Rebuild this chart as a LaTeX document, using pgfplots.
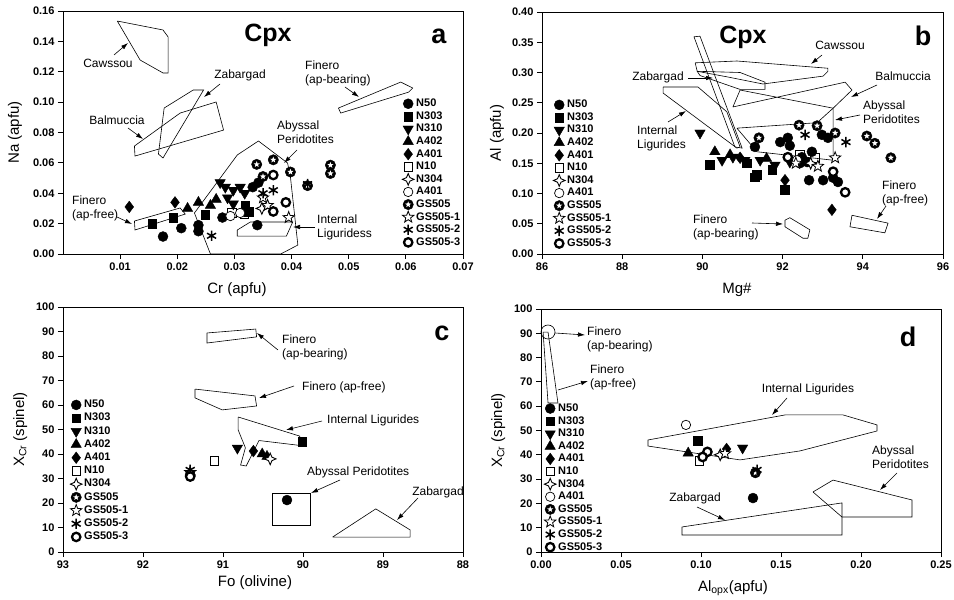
\documentclass[border=0pt]{standalone}
\usepackage{pgfplots}
\pgfplotsset{compat=1.18}
\usepackage{fontspec}
\setmainfont{Liberation Sans}
\usetikzlibrary{arrows.meta}

% open 4-point star (N304)
\pgfdeclareplotmark{star4}{%
  \pgfpathmoveto{\pgfqpoint{0pt}{\pgfplotmarksize}}%
  \pgfpathlineto{\pgfqpoint{0.3\pgfplotmarksize}{0.3\pgfplotmarksize}}%
  \pgfpathlineto{\pgfqpoint{\pgfplotmarksize}{0pt}}%
  \pgfpathlineto{\pgfqpoint{0.3\pgfplotmarksize}{-0.3\pgfplotmarksize}}%
  \pgfpathlineto{\pgfqpoint{0pt}{-\pgfplotmarksize}}%
  \pgfpathlineto{\pgfqpoint{-0.3\pgfplotmarksize}{-0.3\pgfplotmarksize}}%
  \pgfpathlineto{\pgfqpoint{-\pgfplotmarksize}{0pt}}%
  \pgfpathlineto{\pgfqpoint{-0.3\pgfplotmarksize}{0.3\pgfplotmarksize}}%
  \pgfpathclose\pgfusepathqfillstroke}
% 5-point star path
\newcommand{\starpath}[1]{%
  \pgfpathmoveto{\pgfpointpolar{90}{#1\pgfplotmarksize}}%
  \pgfpathlineto{\pgfpointpolar{126}{0.42*#1\pgfplotmarksize}}%
  \pgfpathlineto{\pgfpointpolar{162}{#1\pgfplotmarksize}}%
  \pgfpathlineto{\pgfpointpolar{198}{0.42*#1\pgfplotmarksize}}%
  \pgfpathlineto{\pgfpointpolar{234}{#1\pgfplotmarksize}}%
  \pgfpathlineto{\pgfpointpolar{270}{0.42*#1\pgfplotmarksize}}%
  \pgfpathlineto{\pgfpointpolar{306}{#1\pgfplotmarksize}}%
  \pgfpathlineto{\pgfpointpolar{342}{0.42*#1\pgfplotmarksize}}%
  \pgfpathlineto{\pgfpointpolar{18}{#1\pgfplotmarksize}}%
  \pgfpathlineto{\pgfpointpolar{54}{0.42*#1\pgfplotmarksize}}%
  \pgfpathclose}
\pgfdeclareplotmark{ostar}{\starpath{1}\pgfusepathqfillstroke}
% black disc with white star (GS505)
\pgfdeclareplotmark{cstar}{%
  \pgfpathcircle{\pgfpointorigin}{\pgfplotmarksize}\pgfusepathqfillstroke
  \pgfscope\pgfsetfillcolor{white}\starpath{0.62}\pgfusepathqfill\endpgfscope}

\pgfplotsset{
  panel/.style={scale only axis, anchor=south west,
    axis line style={line width=0.8pt}, tick pos=left, tick align=outside,
    major tick length=5pt, every tick/.style={black, line width=0.8pt},
    scaled ticks=false, clip=false,
    /pgf/number format/assume math mode=true,
    xticklabel={\bfseries\fontsize{11}{12}\selectfont\pgfmathprintnumber{\tick}},
    yticklabel={\bfseries\fontsize{11}{12}\selectfont\pgfmathprintnumber{\tick}},
    label style={font=\fontsize{15}{16}\selectfont},
    legend cell align=left,
    legend style={draw=none, fill=none, anchor=north west, inner sep=0pt,
      font=\bfseries\fontsize{11}{12}\selectfont, row sep=0pt,
      nodes={inner sep=0.8pt, text height=8.4pt, text depth=2.6pt}},
    legend image code/.code={\path (0pt,0pt) (12pt,0pt);\draw[##1] plot coordinates {(5pt,0pt)};}},
  twodec/.style={/pgf/number format/.cd, fixed, fixed zerofill, precision=2},
  poly/.style={black, line width=0.6pt, mark=none, forget plot},
  sN50/.style={black, only marks, mark=*, mark size=5pt, mark options={fill=black}},
  sN303/.style={black, only marks, mark=square*, mark size=4.4pt, mark options={fill=black}},
  sN310/.style={black, only marks, mark=triangle*, mark size=6pt, mark options={fill=black, rotate=180}},
  sA402/.style={black, only marks, mark=triangle*, mark size=6pt, mark options={fill=black}},
  sA401/.style={black, only marks, mark=diamond*, mark size=5.8pt, mark options={fill=black}},
  sN10/.style={black, only marks, mark=square, mark size=4.2pt, mark options={fill=white, line width=0.9pt}},
  sN304/.style={black, only marks, mark=star4, mark size=5.8pt, mark options={fill=white, line width=0.9pt}},
  sA401o/.style={black, only marks, mark=*, mark size=4.7pt, mark options={fill=white, line width=0.7pt}},
  sGS505/.style={black, only marks, mark=cstar, mark size=5.2pt, mark options={fill=black}},
  sGS5051/.style={black, only marks, mark=ostar, mark size=6pt, mark options={fill=white, line width=0.8pt}},
  sGS5052/.style={black, only marks, mark=asterisk, mark size=5.2pt, mark options={line width=1.5pt}},
  sGS5053/.style={black, only marks, mark=*, mark size=4.2pt, mark options={fill=white, line width=2.3pt}},
}

\begin{document}
\begin{tikzpicture}
\useasboundingbox (0pt,0pt) rectangle (954pt,600pt);

% ---------------- a ----------------
\begin{axis}[panel, at={(63pt,346pt)}, width=400pt, height=243pt,
  xmin=0, xmax=0.07, ymin=0, ymax=0.16,
  xtick={0.01,0.02,0.03,0.04,0.05,0.06,0.07},
  ytick={0,0.02,0.04,0.06,0.08,0.10,0.12,0.14,0.16},
  xticklabel style={twodec}, yticklabel style={twodec},
  xlabel={Cr (apfu)}, ylabel={Na (apfu)},
  xlabel style={at={(axis description cs:0.435,-0.148)}, anchor=center},
  ylabel style={at={(axis description cs:-0.12,0.5)}, anchor=center},
  legend style={at={(axis description cs:0.848,0.645)}}]
% fields
\addplot[poly] coordinates {(0.0095,0.1534) (0.0175,0.1475) (0.0184,0.1429) (0.0184,0.1192) (0.0175,0.1192) (0.0135,0.1277) (0.0095,0.1534)};
\addplot[poly] coordinates {(0.0177,0.0961) (0.0228,0.1080) (0.0246,0.1080) (0.0175,0.0632) (0.0167,0.0658) (0.0177,0.0961)};
\addplot[poly] coordinates {(0.0125,0.0711) (0.0205,0.0928) (0.0268,0.1001) (0.0281,0.0816) (0.0126,0.0645) (0.0125,0.0711)};
\addplot[poly] coordinates {(0.0230,0.0270) (0.0305,0.0652) (0.0342,0.0744) (0.0393,0.0599) (0.0398,0.0507) (0.0411,0.0059) (0.0381,0) (0.0258,0) (0.0230,0.0270)};
\addplot[poly] coordinates {(0.0305,0.0158) (0.0328,0.0211) (0.0402,0.0211) (0.0391,0.0118) (0.0305,0.0118) (0.0305,0.0158)};
\addplot[poly] coordinates {(0.0482,0.0961) (0.0591,0.1132) (0.0612,0.1093) (0.0605,0.1066) (0.0486,0.0928) (0.0482,0.0961)};
\addplot[poly] coordinates {(0.0125,0.0217) (0.0205,0.0303) (0.0214,0.0263) (0.0126,0.0158) (0.0125,0.0217)};
% samples
\addplot[sN50] coordinates {(0.0175,0.0115) (0.0207,0.017) (0.0237,0.019) (0.0237,0.015) (0.0279,0.024) (0.034,0.019) (0.0332,0.044) (0.0342,0.047)};
\addlegendentry{N50}
\addplot[sN303] coordinates {(0.0156,0.020) (0.0193,0.024) (0.0249,0.026) (0.0319,0.032) (0.0325,0.028)};
\addlegendentry{N303}
\addplot[sN310] coordinates {(0.0275,0.047) (0.0284,0.044) (0.0298,0.042) (0.031,0.044) (0.0288,0.037) (0.0298,0.033) (0.0318,0.040)};
\addlegendentry{N310}
\addplot[sA402] coordinates {(0.0218,0.030) (0.0237,0.034) (0.0258,0.032) (0.0268,0.036)};
\addlegendentry{A402}
\addplot[sA401] coordinates {(0.0116,0.031) (0.0196,0.034)};
\addlegendentry{A401}
\addplot[sN10] coordinates {(0.0296,0.027) (0.0318,0.026)};
\addlegendentry{N10}
\addplot[sN304] coordinates {(0.0348,0.030)};
\addlegendentry{N304}
\addplot[sA401o] coordinates {(0.0293,0.025) (0.031,0.027)};
\addlegendentry{A401}
\addplot[sGS505] coordinates {(0.0339,0.059) (0.0368,0.062) (0.0398,0.054) (0.0468,0.0585) (0.0468,0.053) (0.035,0.051) (0.0428,0.045)};
\addlegendentry{GS505}
\addplot[sGS5051] coordinates {(0.0358,0.032) (0.0395,0.024) (0.035,0.037)};
\addlegendentry{GS505-1}
\addplot[sGS5052] coordinates {(0.035,0.040) (0.0368,0.042) (0.0428,0.046) (0.026,0.012)};
\addlegendentry{GS505-2}
\addplot[sGS5053] coordinates {(0.039,0.034) (0.0368,0.028) (0.0368,0.052)};
\addlegendentry{GS505-3}
\end{axis}

% ---------------- b ----------------
\begin{axis}[panel, at={(542pt,346pt)}, width=401pt, height=242pt,
  xmin=86, xmax=96, ymin=0, ymax=0.40,
  xtick={86,88,90,92,94,96},
  ytick={0,0.05,0.10,0.15,0.20,0.25,0.30,0.35,0.40},
  yticklabel style={twodec},
  xlabel={Mg\#}, ylabel={Al (apfu)},
  xlabel style={at={(axis description cs:0.486,-0.149)}, anchor=center},
  ylabel style={at={(axis description cs:-0.112,0.5)}, anchor=center},
  legend style={at={(axis description cs:0.028,0.643)}}]
\addplot[poly] coordinates {(89.82,0.316) (90.86,0.319) (93.13,0.307) (93.13,0.302) (93.01,0.294) (91.51,0.281) (90.60,0.293) (89.87,0.302) (89.82,0.316)};
\addplot[poly] coordinates {(89.87,0.302) (90.94,0.300) (91.56,0.284) (91.56,0.272) (90.94,0.272) (89.94,0.295) (89.87,0.302)};
\addplot[poly] coordinates {(89.79,0.359) (89.94,0.360) (90.99,0.175) (90.81,0.177) (89.79,0.359)};
\addplot[poly] coordinates {(89.02,0.276) (89.89,0.276) (90.61,0.235) (90.94,0.177) (90.86,0.175) (89.02,0.266) (89.02,0.276)};
\addplot[poly] coordinates {(90.76,0.243) (93.56,0.284) (93.73,0.271) (93.26,0.241) (90.94,0.271) (90.76,0.243)};
\addplot[poly] coordinates {(90.86,0.208) (92.86,0.217) (93.26,0.241) (93.26,0.155) (91.36,0.169) (90.86,0.208)};
\addplot[poly] coordinates {(92.06,0.056) (92.18,0.060) (92.68,0.040) (92.63,0.026) (92.51,0.026) (92.06,0.045) (92.06,0.056)};
\addplot[poly] coordinates {(93.73,0.064) (94.63,0.051) (94.55,0.035) (93.68,0.045) (93.73,0.064)};
\addplot[sN50] coordinates {(91.94,0.185) (92.13,0.192) (92.18,0.179) (91.31,0.177) (92.98,0.197) (93.13,0.192) (92.66,0.122) (93.01,0.122) (93.26,0.126) (93.38,0.119) (92.48,0.160) (92.61,0.152) (92.73,0.169) (92.43,0.150)};
\addlegendentry{N50}
\addplot[sN303] coordinates {(90.19,0.147) (91.36,0.131) (92.06,0.106) (91.74,0.139) (91.11,0.150) (91.31,0.127)};
\addlegendentry{N303}
\addplot[sN310] coordinates {(89.94,0.200) (90.49,0.155) (90.76,0.160) (91.06,0.155) (91.44,0.155) (91.81,0.147) (92.18,0.152)};
\addlegendentry{N310}
\addplot[sA402] coordinates {(90.31,0.169) (90.69,0.164) (91.60,0.158)};
\addlegendentry{A402}
\addplot[sA401] coordinates {(92.06,0.122) (93.23,0.073) (90.94,0.159)};
\addlegendentry{A401}
\addplot[sN10] coordinates {(92.43,0.164) (92.81,0.159)};
\addlegendentry{N10}
\addplot[sN304] coordinates {(92.70,0.150)};
\addlegendentry{N304}
\addplot[sA401o] coordinates {(92.36,0.155)};
\addlegendentry{A401}
\addplot[sGS505] coordinates {(92.41,0.213) (92.86,0.212) (91.41,0.192) (94.10,0.195) (94.30,0.183) (94.70,0.159) (93.31,0.200)};
\addlegendentry{GS505}
\addplot[sGS5051] coordinates {(93.31,0.159) (92.33,0.150) (92.88,0.145)};
\addlegendentry{GS505-1}
\addplot[sGS5052] coordinates {(92.56,0.197) (93.58,0.185)};
\addlegendentry{GS505-2}
\addplot[sGS5053] coordinates {(93.56,0.102) (92.13,0.160) (93.26,0.136)};
\addlegendentry{GS505-3}
\end{axis}

% ---------------- c ----------------
\begin{axis}[panel, at={(63pt,48pt)}, width=400pt, height=245pt,
  xmin=88, xmax=93, x dir=reverse, ymin=0, ymax=100,
  xtick={88,89,90,91,92,93}, ytick={0,10,20,30,40,50,60,70,80,90,100},
  xlabel={Fo (olivine)}, ylabel={X\textsubscript{Cr} (spinel)},
  xlabel style={at={(axis description cs:0.48,-0.127)}, anchor=center},
  ylabel style={at={(axis description cs:-0.107,0.5)}, anchor=center},
  legend style={at={(axis description cs:0.018,0.628)},
    nodes={inner sep=0.8pt, text height=8.6pt, text depth=3pt}}]
\addplot[poly] coordinates {(91.2,89.4) (90.59,91.0) (90.58,87.8) (91.2,85.3) (91.2,89.4)};
\addplot[poly] coordinates {(91.35,66.5) (90.6,63.7) (90.58,59.6) (91.01,58.0) (91.35,62.9) (91.35,66.5)};
\addplot[poly] coordinates {(90.81,55.1) (90.04,47.3) (90.04,43.5) (90.55,45.5) (90.71,35.1) (90.78,35.5) (90.72,42.5) (90.81,49.8) (90.81,55.1)};
\addplot[poly] coordinates {(90.38,24.1) (89.91,24.1) (89.91,11.0) (90.38,11.0) (90.38,24.1)};
\addplot[poly] coordinates {(89.63,6.1) (89.09,17.6) (88.66,9.0) (88.66,6.1) (89.63,6.1)};
\addplot[sN50] coordinates {(90.2,21.2)};
\addlegendentry{N50}
\addplot[sN303] coordinates {(90.01,44.9)};
\addlegendentry{N303}
\addplot[sN310] coordinates {(90.82,42.4)};
\addlegendentry{N310}
\addplot[sA402] coordinates {(90.51,40.0) (90.45,39.0)};
\addlegendentry{A402}
\addplot[sA401] coordinates {(90.62,41.2)};
\addlegendentry{A401}
\addplot[sN10] coordinates {(91.11,37.1)};
\addlegendentry{N10}
\addplot[sN304] coordinates {(90.41,38.0)};
\addlegendentry{N304}
\addplot[sGS505] coordinates {(91.41,31.4)};
\addlegendentry{GS505}
\addplot[sGS5051] coordinates {(91.41,32.5)};
\addlegendentry{GS505-1}
\addplot[sGS5052] coordinates {(91.41,33.5)};
\addlegendentry{GS505-2}
\addplot[sGS5053] coordinates {(91.41,30.8)};
\addlegendentry{GS505-3}
\end{axis}

% ---------------- d ----------------
\begin{axis}[panel, at={(541pt,48pt)}, width=400pt, height=243pt,
  xmin=0, xmax=0.25, ymin=0, ymax=100,
  xtick={0,0.05,0.10,0.15,0.20,0.25}, ytick={0,10,20,30,40,50,60,70,80,90,100},
  xticklabel style={twodec},
  xlabel={Al\textsubscript{opx}(apfu)}, ylabel={X\textsubscript{Cr} (spinel)},
  xlabel style={at={(axis description cs:0.48,-0.148)}, anchor=center},
  ylabel style={at={(axis description cs:-0.107,0.5)}, anchor=center},
  legend style={at={(axis description cs:0.008,0.617)}}]
\addplot[poly] coordinates {(0.0013,90.5) (0.0044,90.5) (0.0106,61.3) (0.0044,61.3) (0.0013,90.5)};
\addplot[poly] coordinates {(0.0669,46.1) (0.1525,56.4) (0.1888,56.4) (0.21,52.3) (0.21,49.8) (0.1619,41.6) (0.1244,37.9) (0.0669,43.6) (0.0669,46.1)};
\addplot[poly] coordinates {(0.17,24.7) (0.1825,29.6) (0.2319,21.4) (0.2319,14.4) (0.1881,14.4) (0.17,24.7)};
\addplot[poly] coordinates {(0.0881,10.3) (0.1881,20.2) (0.1881,7.0) (0.0881,7.0) (0.0881,10.3)};
\addplot[sN50] coordinates {(0.1325,22.2)};
\addlegendentry{N50}
\addplot[sN303] coordinates {(0.098,45.7)};
\addlegendentry{N303}
\addplot[sN310] coordinates {(0.126,42.8)};
\addlegendentry{N310}
\addplot[sA402] coordinates {(0.092,40.7)};
\addlegendentry{A402}
\addplot[sA401] coordinates {(0.116,42.4)};
\addlegendentry{A401}
\addplot[sN10] coordinates {(0.099,37.4)};
\addlegendentry{N10}
\addplot[sN304] coordinates {(0.112,40.0)};
\addlegendentry{N304}
\addplot[sA401o] coordinates {(0.0906,52.3)};
\addlegendentry{A401}
\addplot[sGS505] coordinates {(0.134,32.6)};
\addlegendentry{GS505}
\addplot[sGS5051] coordinates {(0.115,40.5)};
\addlegendentry{GS505-1}
\addplot[sGS5052] coordinates {(0.135,33.8)};
\addlegendentry{GS505-2}
\addplot[sGS5053] coordinates {(0.104,41.2) (0.101,39.1)};
\addlegendentry{GS505-3}
\end{axis}

% ---------------- annotations (picture pixels, y down) ----------------
\begin{scope}[x=1pt, y=-1pt, yshift=600pt,
  arr/.style={line width=0.6pt, -{Latex[length=7pt,width=4.5pt]}},
  lab/.style={font=\fontsize{12}{13.5}\selectfont, inner sep=0pt, align=left},
  big/.style={font=\bfseries\fontsize{25}{25}\selectfont, inner sep=0pt},
  let/.style={font=\bfseries\fontsize{27}{27}\selectfont, inner sep=0pt}]
% a
\node[big] at (268,35) {Cpx};
\node[let] at (439,36) {a};
\node[lab] at (108,63) {Cawssou};
\draw[arr] (114,55) -- (128,43);
\node[lab] at (240,75) {Zabargad};
\draw[arr] (220,84) -- (204,97);
\node[lab] at (117,120) {Balmuccia};
\draw[arr] (128,128) -- (143,139);
\node[lab, anchor=north west] at (277,121) {Abyssal\\Peridotites};
\draw[arr] (297,150) -- (284,163);
\node[lab, anchor=north west] at (72,196) {Finero\\(ap-free)};
\draw[arr] (117,217) -- (132,224);
\node[lab, anchor=north west] at (305,61) {Finero\\(ap-bearing)};
\draw[arr] (345,87) -- (359,97);
\node[lab, anchor=north west] at (317,215) {Internal\\Liguridess};
\draw[arr] (315,227) -- (293,227);
% b
\node[big] at (743,37) {Cpx};
\node[let] at (923,36) {b};
\node[lab] at (840,45) {Cawssou};
\draw[arr] (822,55) -- (811,64);
\node[lab] at (658,77) {Zabargad};
\draw[arr] (688,78) -- (713,78);
\node[lab, anchor=north west] at (637,126) {Internal\\Ligurides};
\draw[arr] (668,122) -- (686,111);
\node[lab] at (903,76) {Balmuccia};
\draw[arr] (877,85) -- (851,97);
\node[lab, anchor=north west] at (863,101) {Abyssal\\Peridotites};
\draw[arr] (860,115) -- (835,120);
\node[lab, anchor=north west] at (882,181) {Finero\\(ap-free)};
\draw[arr] (886,206) -- (877,219);
\node[lab, anchor=north west] at (693,215) {Finero\\(ap-bearing)};
\draw[arr] (752,223) -- (783,224);
% c
\node[let] at (442,333) {c};
\node[lab, anchor=north west] at (282,335) {Finero\\(ap-bearing)};
\draw[arr] (278,350) -- (257,333);
\node[lab, anchor=west] at (302,387) {Finero (ap-free)};
\draw[arr] (294,386) -- (259,398);
\node[lab, anchor=west] at (327,420) {Internal Ligurides};
\draw[arr] (322,421) -- (286,430);
\node[lab, anchor=west] at (307,472) {Abyssal Peridotites};
\draw[arr] (340,480) -- (311,493);
\node[lab] at (438,492) {Zabargad};
\draw[arr] (418,498) -- (397,520);
% d
\node[let] at (908,337) {d};
\draw[line width=0.6pt] (548,332) circle[radius=7];
\node[lab, anchor=north west] at (587,327) {Finero\\(ap-bearing)};
\draw[arr] (555,333) -- (585,335);
\node[lab, anchor=north west] at (590,365) {Finero\\(ap-free)};
\draw[arr] (558,390) -- (588,381);
\node[lab] at (808,389) {Internal Ligurides};
\draw[arr] (787,398) -- (772,415);
\node[lab, anchor=north west] at (872,446) {Abyssal\\Peridotites};
\draw[arr] (897,473) -- (880,490);
\node[lab] at (695,498) {Zabargad};
\draw[arr] (697,507) -- (725,520);
\end{scope}
\end{tikzpicture}
\end{document}
